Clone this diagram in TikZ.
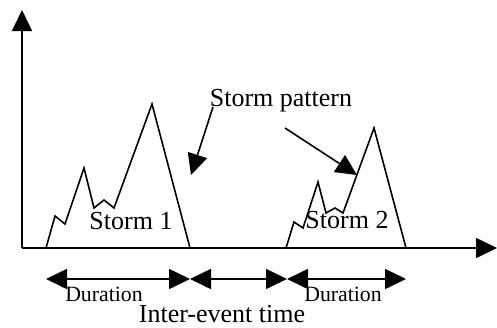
\documentclass[tikz,border=0pt]{standalone}
\usepackage{fontspec}
\setmainfont{Liberation Serif}
\usetikzlibrary{arrows.meta}

\tikzset{
  bigtip/.style={-{Triangle[length=10.5pt,width=10pt]}},
  twotip/.style={{Triangle[length=10.5pt,width=10pt]}-{Triangle[length=10.5pt,width=10pt]}},
  lbl/.style={font=\fontsize{13}{15}\selectfont, inner sep=0pt},
  small/.style={font=\fontsize{10.9}{13}\selectfont, inner sep=0pt}
}

\begin{document}
\begin{tikzpicture}[x=0.5pt,y=-0.5pt,line width=0.8pt]

        \useasboundingbox (0,0) rectangle (497,327);

        % axes
        \coordinate (o)    at (22,248);
        \coordinate (ytop) at (22,10);
        \coordinate (xend) at (497,248);
        \draw[bigtip] (o) -- (ytop);
        \draw[bigtip] (o) -- (xend);

        % storms
        \draw[line join=miter] (46,248) -- (55,216) -- (65,224) -- (84,168) -- (94,208)
          -- (104,200) -- (114,208) -- (152,104) -- (190,248);
        \draw[line join=miter] (286,248) -- (294,222) -- (303,228) -- (318,182) -- (326,213)
          -- (335,208) -- (343,213) -- (374,128) -- (406,248);

        % durations
        \begin{scope}
          \coordinate (a) at (46,279);
          \coordinate (b) at (190,279);
          \coordinate (c) at (287,279);
          \coordinate (d) at (406,279);
          \draw[twotip] (a) -- (b);
          \draw[twotip] (b) -- (c);
          \draw[twotip] (c) -- (d);
        \end{scope}

        % labels
        \node[lbl]   (storm1)  at (131,221) {Storm 1};
        \node[lbl]   (storm2)  at (347,220) {Storm 2};
        \node[lbl]   (pattern) at (281,101) {Storm pattern};
        \node[small] (dur1)    at (104,294) {Duration};
        \node[small] (dur2)    at (343,294) {Duration};
        \node[lbl]   (inter)   at (222,314) {Inter-event time};

        % pointers
        \coordinate (p1) at (213,107);
        \coordinate (p2) at (285,128);
        \coordinate (t1) at (191,175);
        \coordinate (t2) at (357,175);
        \draw[bigtip] (p1) -- (t1);
        \draw[bigtip] (p2) -- (t2);

      \end{tikzpicture}
\end{document}
